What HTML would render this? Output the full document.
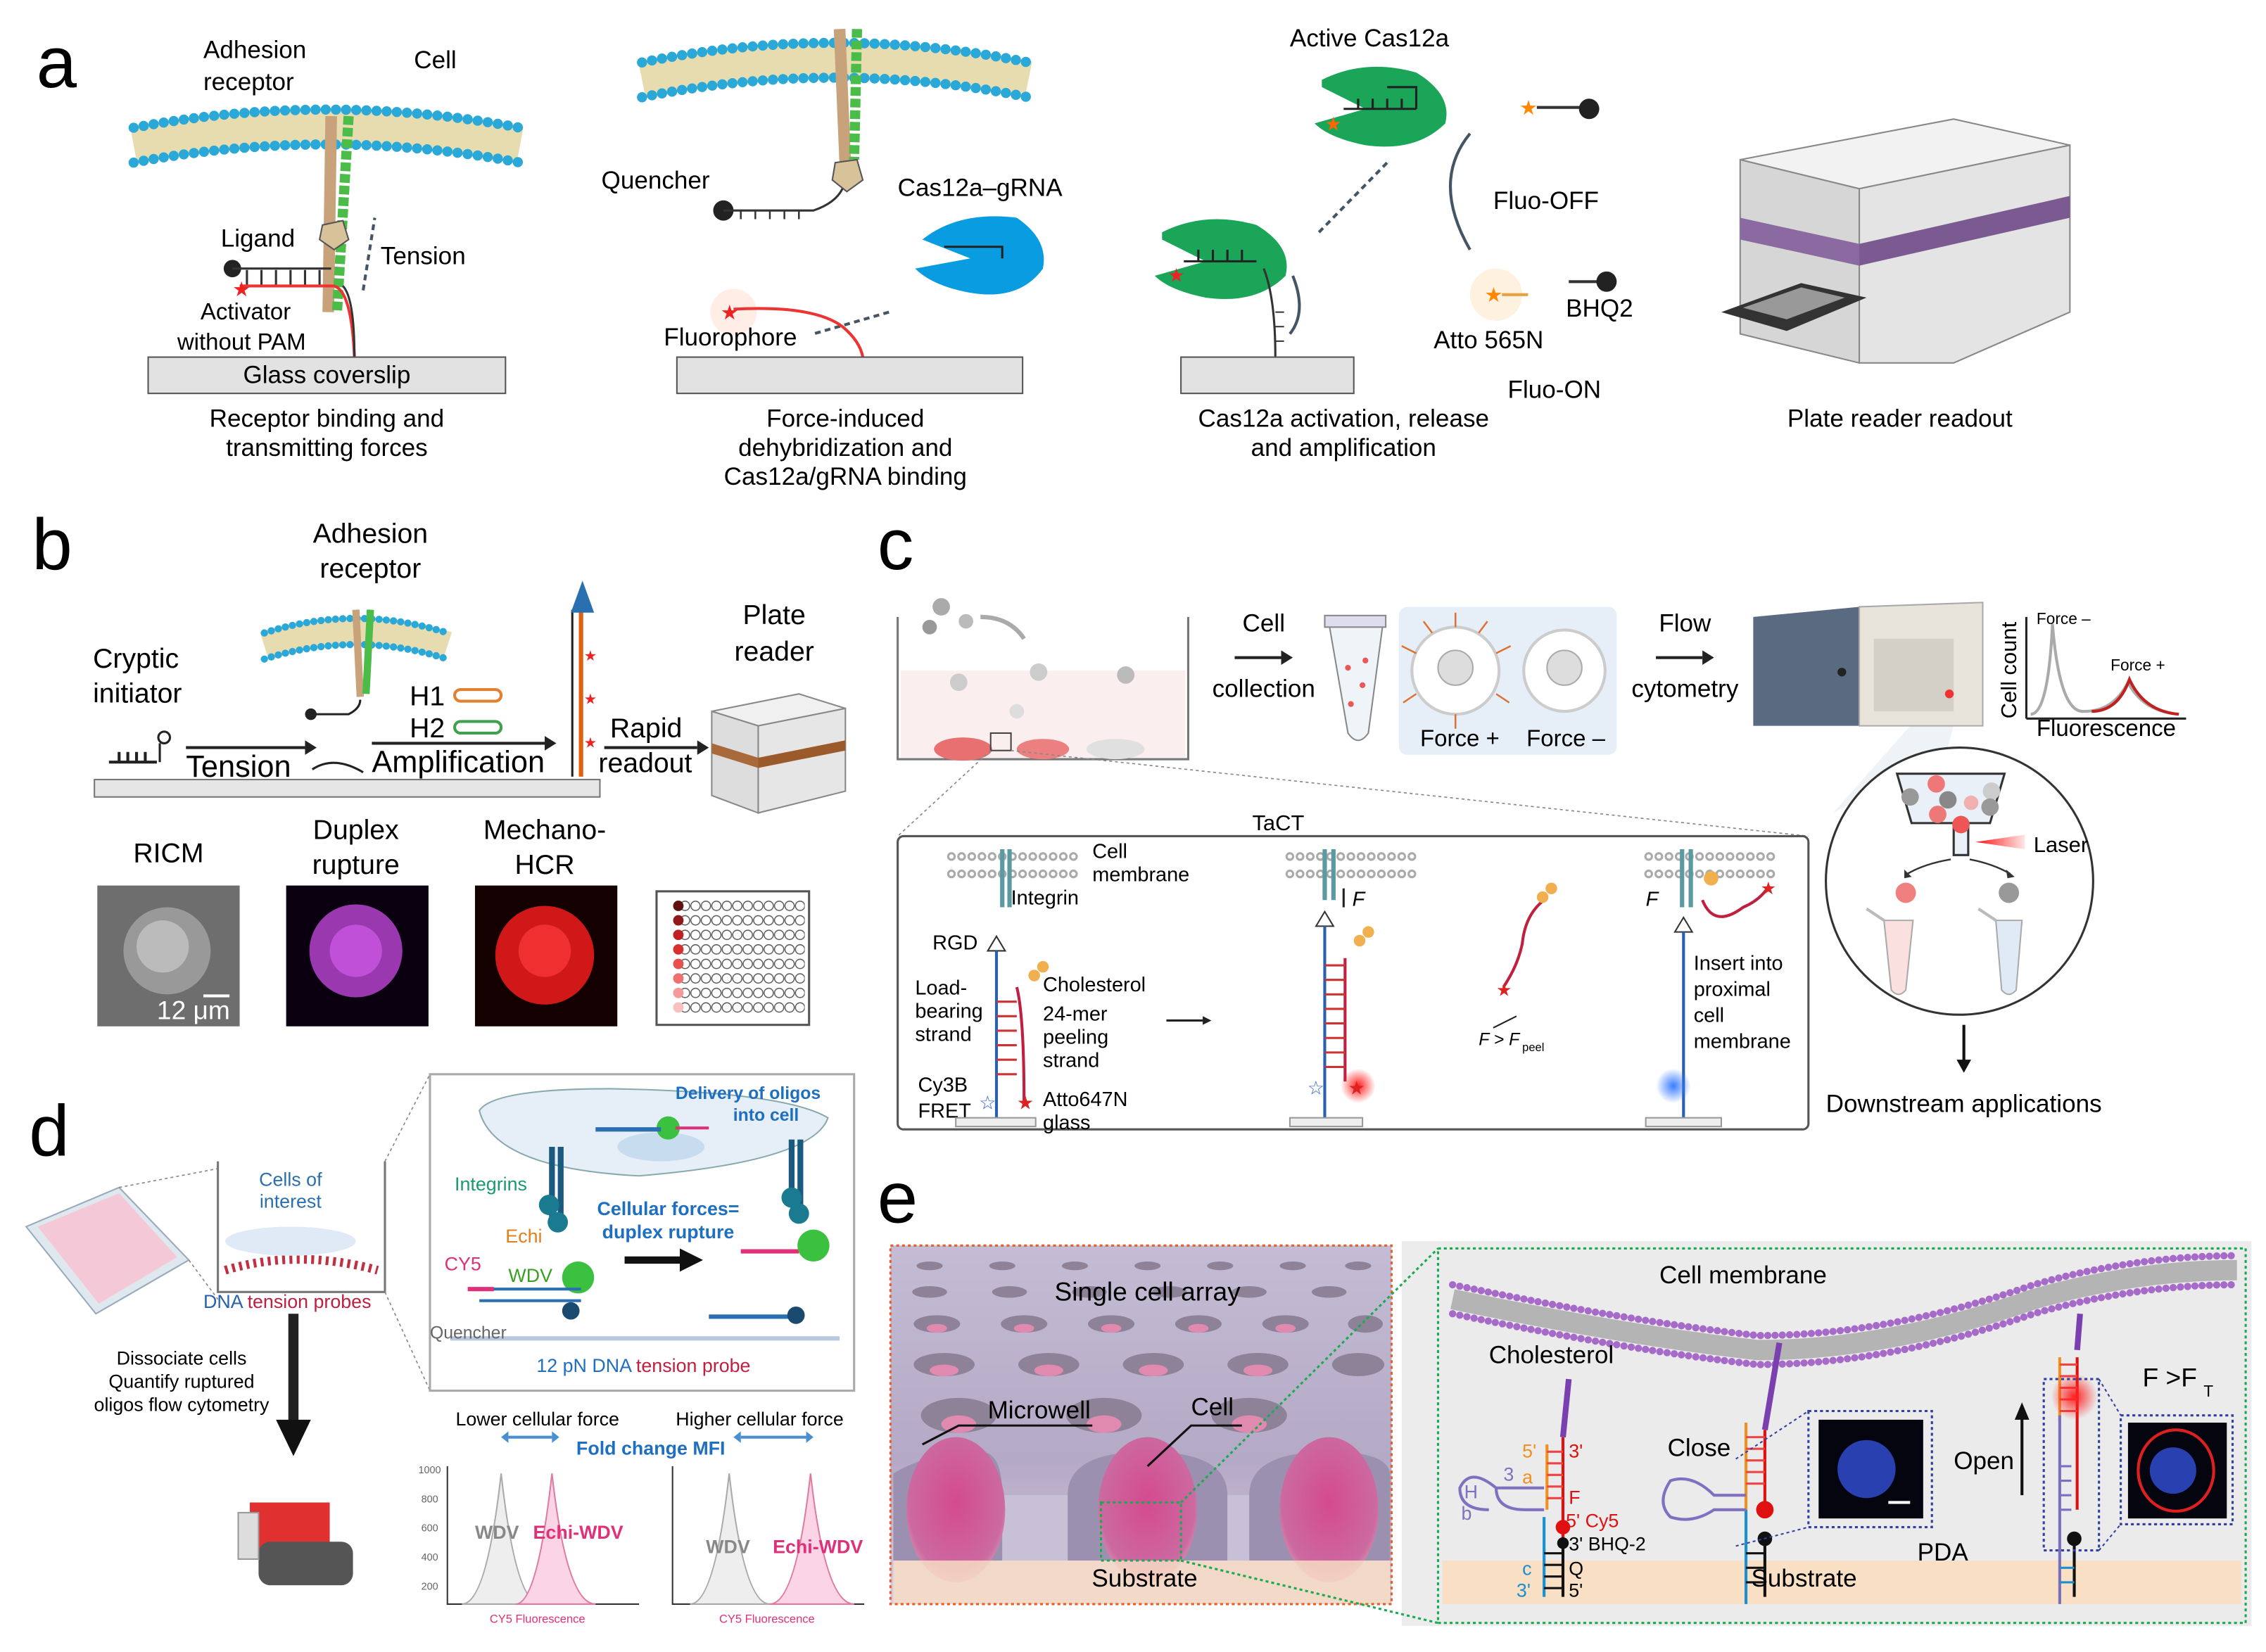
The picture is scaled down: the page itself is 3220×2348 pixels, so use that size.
<!DOCTYPE html>
<html><head><meta charset="utf-8"><style>
html,body{margin:0;padding:0;background:#fff}
svg{display:block}
text{font-family:"Liberation Sans",sans-serif}
</style></head><body>
<svg width="3220" height="2348" viewBox="0 0 1560 1138" preserveAspectRatio="none" xmlns="http://www.w3.org/2000/svg">
<defs>
<radialGradient id="pink" cx="50%" cy="45%" r="60%"><stop offset="0" stop-color="#d44a90"/><stop offset="0.8" stop-color="#cc6aa0"/><stop offset="1" stop-color="#d8a0b8"/></radialGradient>
<radialGradient id="glowr" r="50%"><stop offset="0" stop-color="#ff2020"/><stop offset="1" stop-color="#ff2020" stop-opacity="0"/></radialGradient>
<radialGradient id="glowb" r="50%"><stop offset="0" stop-color="#3a7cff"/><stop offset="1" stop-color="#3a7cff" stop-opacity="0"/></radialGradient>
<linearGradient id="well" x1="0" y1="0" x2="0" y2="1"><stop offset="0" stop-color="#c4bcd4"/><stop offset="0.6" stop-color="#b4a9c6"/><stop offset="1" stop-color="#d8cce0"/></linearGradient>
<linearGradient id="laser" x1="0" y1="0" x2="1" y2="0"><stop offset="0" stop-color="#ff1010"/><stop offset="1" stop-color="#ff1010" stop-opacity="0.1"/></linearGradient>
<pattern id="grid" x="468" y="619" width="7.2" height="10" patternUnits="userSpaceOnUse"><circle cx="3.6" cy="5" r="3.2" fill="#fff" stroke="#555" stroke-width="0.7"/></pattern>
</defs>

<!-- ================= PANEL A ================= -->
<text x="25" y="60" font-size="50">a</text>
<path d="M92 100 Q225 75 358 100" stroke="#e6dcb0" stroke-width="26" fill="none"/>
<path d="M92 88 Q225 63 358 88" stroke="#2aa8d8" stroke-width="7" stroke-dasharray="0 7" stroke-linecap="round" fill="none"/>
<path d="M92 112 Q225 87 358 112" stroke="#2aa8d8" stroke-width="7" stroke-dasharray="0 7" stroke-linecap="round" fill="none"/>
<path d="M228 80 L226 215" stroke="#c8a27a" stroke-width="8" fill="none"/>
<path d="M240 80 L232 215" stroke="#4cbc48" stroke-width="7" stroke-dasharray="6 2" fill="none"/>
<polygon points="222,155 236,152 240,165 230,172 220,165" fill="#d8c29a" stroke="#555"/>
<text x="140" y="40" font-size="17">Adhesion</text>
<text x="140" y="62" font-size="17">receptor</text>
<text x="285" y="47" font-size="17">Cell</text>
<text x="152" y="170" font-size="17">Ligand</text>
<text x="262" y="182" font-size="17">Tension</text>
<path d="M250 200 L258 150" stroke="#456" stroke-width="2" stroke-dasharray="4 3"/>
<circle cx="160" cy="185" r="6" fill="#222"/>
<path d="M160 185 H228 M170 186 V197 M180 186 V197 M190 186 V197 M200 186 V197 M210 186 V197 M220 186 V197" stroke="#333" stroke-width="1.5"/>
<path d="M165 197 H230 Q242 200 244 246" stroke="#e33" stroke-width="2" fill="none"/>
<path d="M236 197 Q244 205 244 246" stroke="#333" stroke-width="1.5" fill="none"/>
<text x="160" y="204" font-size="14" fill="#e22">★</text>
<text x="138" y="220" font-size="16">Activator</text>
<text x="122" y="241" font-size="16">without PAM</text>
<rect x="102" y="246" width="246" height="25" fill="#e2e2e2" stroke="#555"/>
<text x="225" y="264" font-size="17" text-anchor="middle">Glass coverslip</text>
<text x="225" y="294" font-size="17" text-anchor="middle">Receptor binding and</text>
<text x="225" y="314" font-size="17" text-anchor="middle">transmitting forces</text>

<path d="M442 55 Q575 28 708 55" stroke="#e6dcb0" stroke-width="26" fill="none"/>
<path d="M442 43 Q575 16 708 43" stroke="#2aa8d8" stroke-width="7" stroke-dasharray="0 7" stroke-linecap="round" fill="none"/>
<path d="M442 67 Q575 40 708 67" stroke="#2aa8d8" stroke-width="7" stroke-dasharray="0 7" stroke-linecap="round" fill="none"/>
<path d="M578 20 L582 115" stroke="#c8a27a" stroke-width="8"/>
<path d="M590 20 L588 110" stroke="#4cbc48" stroke-width="7" stroke-dasharray="6 2"/>
<polygon points="575,112 590,110 594,124 583,132 573,124" fill="#d8c29a" stroke="#555"/>
<circle cx="498" cy="145" r="7" fill="#222"/>
<path d="M498 145 H560 Q575 140 580 130" stroke="#333" stroke-width="1.5" fill="none"/>
<path d="M510 145 v6 M520 145 v6 M530 145 v6 M540 145 v6 M550 145 v6" stroke="#333" stroke-width="1.2"/>
<text x="414" y="130" font-size="17">Quencher</text>
<text x="618" y="135" font-size="17">Cas12a–gRNA</text>
<path d="M635 165 Q660 145 700 150 Q722 165 718 185 Q700 210 660 200 Q640 195 630 185 L668 178 L635 165 Z" fill="#0a9ce0"/>
<path d="M650 170 H690 V178" stroke="#222" stroke-width="1.5" fill="none"/>
<path d="M612 215 L560 230" stroke="#456" stroke-width="2" stroke-dasharray="4 3"/>
<circle cx="505" cy="215" r="16" fill="#ffe8e0" opacity="0.8"/>
<path d="M505 213 Q560 210 580 225 Q592 235 594 246" stroke="#e33" stroke-width="2" fill="none"/>
<text x="496" y="220" font-size="14" fill="#e22">★</text>
<text x="457" y="238" font-size="17">Fluorophore</text>
<rect x="466" y="246" width="238" height="25" fill="#e2e2e2" stroke="#555"/>
<text x="582" y="294" font-size="17" text-anchor="middle">Force-induced</text>
<text x="582" y="314" font-size="17" text-anchor="middle">dehybridization and</text>
<text x="582" y="334" font-size="17" text-anchor="middle">Cas12a/gRNA binding</text>

<text x="888" y="32" font-size="17">Active Cas12a</text>
<path d="M910 55 Q940 40 975 50 Q1000 65 995 85 Q975 105 940 100 Q915 95 905 85 L940 75 L910 60 Z" fill="#1aa558"/>
<path d="M925 75 H975 M935 68 V75 M945 68 V75 M955 68 V75 M965 68 V75 M955 60 H975 V75" stroke="#222" stroke-width="1.5" fill="none"/>
<text x="912" y="90" font-size="13" fill="#f60">★</text>
<path d="M800 160 Q830 145 865 155 Q890 170 885 190 Q865 210 830 205 Q805 200 795 190 L830 180 L800 165 Z" fill="#1aa558"/>
<path d="M815 180 H865 M825 172 V180 M835 172 V180 M845 172 V180 M855 172 V180" stroke="#222" stroke-width="1.5" fill="none"/>
<text x="804" y="194" font-size="13" fill="#e22">★</text>
<path d="M870 185 Q878 205 878 246" stroke="#333" stroke-width="1.5" fill="none"/>
<path d="M878 215 h6 M878 225 h6 M878 235 h6" stroke="#333"/>
<path d="M890 190 Q900 215 888 230" stroke="#456" stroke-width="2" fill="none"/>
<path d="M908 160 L955 112" stroke="#456" stroke-width="2" stroke-dasharray="4 3"/>
<rect x="813" y="246" width="119" height="25" fill="#e2e2e2" stroke="#555"/>
<text x="1046" y="79" font-size="14" fill="#f80">★</text>
<path d="M1058 74 H1090" stroke="#333" stroke-width="2"/><circle cx="1094" cy="75" r="7" fill="#222"/>
<path d="M1012 92 Q985 125 1012 172" stroke="#456" stroke-width="2" fill="none"/>
<text x="1028" y="144" font-size="17">Fluo-OFF</text>
<circle cx="1030" cy="203" r="18" fill="#fff1e0"/>
<text x="1022" y="208" font-size="14" fill="#f80">★</text>
<path d="M1034 203 H1052" stroke="#e9a040" stroke-width="2"/>
<path d="M1080 194 H1102" stroke="#333" stroke-width="2"/><circle cx="1106" cy="194" r="7" fill="#222"/>
<text x="1078" y="218" font-size="17">BHQ2</text>
<text x="987" y="240" font-size="17">Atto 565N</text>
<text x="1038" y="274" font-size="17">Fluo-ON</text>
<text x="925" y="294" font-size="17" text-anchor="middle">Cas12a activation, release</text>
<text x="925" y="314" font-size="17" text-anchor="middle">and amplification</text>
<polygon points="1198,110 1345,82 1425,100 1280,130" fill="#f2f2f2" stroke="#888"/>
<polygon points="1198,110 1280,130 1280,250 1198,230" fill="#d6d6d6" stroke="#888"/>
<polygon points="1280,130 1425,100 1425,215 1345,250 1280,250" fill="#e4e4e4" stroke="#888"/>
<polygon points="1280,168 1425,135 1425,150 1280,183" fill="#7a5a90"/>
<polygon points="1198,150 1280,168 1280,183 1198,165" fill="#8a6aa0"/>
<polygon points="1185,215 1240,195 1285,205 1230,228" fill="#333"/>
<polygon points="1200,212 1240,198 1270,205 1230,220" fill="#999"/>
<text x="1308" y="294" font-size="17" text-anchor="middle">Plate reader readout</text>

<!-- ================= PANEL B ================= -->
<text x="22" y="392" font-size="50">b</text>
<text x="255" y="374" font-size="19" text-anchor="middle">Adhesion</text>
<text x="255" y="398" font-size="19" text-anchor="middle">receptor</text>
<path d="M182 445 Q245 425 308 445" stroke="#e6dcb0" stroke-width="20" fill="none"/>
<path d="M182 436 Q245 416 308 436" stroke="#2aa8d8" stroke-width="5" stroke-dasharray="0 5" stroke-linecap="round" fill="none"/>
<path d="M182 454 Q245 434 308 454" stroke="#2aa8d8" stroke-width="5" stroke-dasharray="0 5" stroke-linecap="round" fill="none"/>
<path d="M245 420 L248 480" stroke="#c8a27a" stroke-width="5"/><path d="M255 420 L252 478" stroke="#4cbc48" stroke-width="5"/>
<path d="M215 492 H240 Q248 488 248 482" stroke="#222" stroke-width="1.5" fill="none"/><circle cx="214" cy="492" r="4" fill="#222"/>
<text x="64" y="460" font-size="19">Cryptic</text>
<text x="64" y="484" font-size="19">initiator</text>
<text x="282" y="486" font-size="19">H1</text><text x="282" y="508" font-size="19">H2</text>
<rect x="313" y="475" width="32" height="8" rx="4" fill="none" stroke="#e08030" stroke-width="2"/>
<rect x="313" y="497" width="32" height="8" rx="4" fill="none" stroke="#40a050" stroke-width="2"/>
<path d="M400 535 V420" stroke="#e06010" stroke-width="3"/><path d="M394 535 V420" stroke="#222" stroke-width="1.5"/>
<polygon points="393,422 401,400 409,422" fill="#2a70b0"/>
<text x="402" y="455" font-size="10" fill="#e22">★</text><text x="402" y="485" font-size="10" fill="#e22">★</text><text x="402" y="515" font-size="10" fill="#e22">★</text>
<path d="M75 525 H108 M82 518 V525 M88 518 V525 M94 518 V525 M100 518 V525" stroke="#222" stroke-width="2"/>
<circle cx="113" cy="508" r="4" fill="none" stroke="#222" stroke-width="1.5"/><path d="M110 512 V525" stroke="#222" stroke-width="1.5"/>
<path d="M128 515 H210" stroke="#222" stroke-width="2"/><polygon points="210,510 218,515 210,520" fill="#222"/>
<text x="128" y="535" font-size="21">Tension</text>
<path d="M215 530 Q230 520 250 532" stroke="#222" stroke-width="1.5" fill="none"/>
<path d="M256 512 H375" stroke="#222" stroke-width="2"/><polygon points="375,507 383,512 375,517" fill="#222"/>
<text x="256" y="532" font-size="21">Amplification</text>
<rect x="65" y="537" width="348" height="12" fill="#e6e6e6" stroke="#777"/>
<text x="533" y="430" font-size="19" text-anchor="middle">Plate</text>
<text x="533" y="455" font-size="19" text-anchor="middle">reader</text>
<text x="420" y="508" font-size="19">Rapid</text>
<text x="412" y="532" font-size="19">readout</text>
<path d="M416 515 H480" stroke="#222" stroke-width="2"/><polygon points="480,510 488,515 480,520" fill="#222"/>
<polygon points="490,490 550,478 582,488 522,500" fill="#f0f0f0" stroke="#888"/>
<polygon points="490,490 522,500 522,560 490,548" fill="#ddd" stroke="#888"/>
<polygon points="522,500 582,488 582,545 522,560" fill="#e6e6e6" stroke="#888"/>
<polygon points="522,522 582,510 582,517 522,529" fill="#9a5a2a"/>
<polygon points="490,512 522,522 522,529 490,519" fill="#a86a3a"/>
<text x="116" y="594" font-size="19" text-anchor="middle">RICM</text>
<text x="245" y="578" font-size="19" text-anchor="middle">Duplex</text>
<text x="245" y="602" font-size="19" text-anchor="middle">rupture</text>
<text x="375" y="578" font-size="19" text-anchor="middle">Mechano-</text>
<text x="375" y="602" font-size="19" text-anchor="middle">HCR</text>
<rect x="67" y="610" width="98" height="97" fill="#6e6e6e"/>
<circle cx="115" cy="655" r="30" fill="#999"/><circle cx="112" cy="652" r="18" fill="#bbb"/>
<path d="M140 686 H158" stroke="#fff" stroke-width="2"/>
<text x="108" y="702" font-size="18" fill="#fff">12 μm</text>
<rect x="197" y="610" width="98" height="97" fill="#0a0010"/>
<circle cx="245" cy="655" r="32" fill="#9a38b0"/><circle cx="245" cy="655" r="18" fill="#c050d8"/>
<rect x="327" y="610" width="98" height="97" fill="#150000"/>
<circle cx="375" cy="658" r="34" fill="#d01818"/><circle cx="375" cy="655" r="18" fill="#f03030"/>
<rect x="452" y="614" width="105" height="92" fill="#fff" stroke="#555" stroke-width="1.5"/>
<rect x="468" y="619" width="86" height="80" fill="url(#grid)"/>
<g><circle cx="467" cy="624" r="3.6" fill="#601010"/><circle cx="467" cy="634" r="3.6" fill="#901818"/><circle cx="467" cy="644" r="3.6" fill="#c02020"/><circle cx="467" cy="654" r="3.6" fill="#d83030"/>
<circle cx="467" cy="664" r="3.6" fill="#e85050"/><circle cx="467" cy="674" r="3.6" fill="#f07070"/><circle cx="467" cy="684" r="3.6" fill="#f49a9a"/><circle cx="467" cy="694" r="3.6" fill="#f8c0c0"/></g>

<!-- ================= PANEL C ================= -->
<text x="604" y="392" font-size="50">c</text>
<path d="M618 425 V523 H818 V425" stroke="#777" stroke-width="1.5" fill="none"/>
<rect x="620" y="462" width="196" height="60" fill="#fbeeee"/>
<circle cx="648" cy="418" r="6" fill="#aaa"/><circle cx="665" cy="428" r="5" fill="#bbb"/><circle cx="640" cy="432" r="5" fill="#999"/>
<path d="M675 425 Q695 425 705 440" stroke="#aaa" stroke-width="3" fill="none"/>
<circle cx="660" cy="470" r="6" fill="#ccc"/><circle cx="715" cy="463" r="6" fill="#ccc"/><circle cx="775" cy="465" r="6" fill="#bbb"/><circle cx="700" cy="490" r="5" fill="#ddd"/>
<ellipse cx="663" cy="516" rx="20" ry="8" fill="#e87070"/><ellipse cx="718" cy="516" rx="18" ry="7" fill="#ec8080"/><ellipse cx="768" cy="516" rx="20" ry="7" fill="#e0e0e0"/>
<rect x="682" y="505" width="14" height="12" fill="none" stroke="#444"/>
<path d="M682 517 L618 576 M696 517 L1245 576" stroke="#888" stroke-width="0.8" stroke-dasharray="2 2"/>
<text x="870" y="435" font-size="17" text-anchor="middle">Cell</text>
<text x="870" y="480" font-size="17" text-anchor="middle">collection</text>
<path d="M850 453 H882" stroke="#222" stroke-width="2"/><polygon points="882,448 890,453 882,458" fill="#222"/>
<path d="M915 430 H952 L942 505 Q935 515 928 505 Z" fill="#eef4f8" stroke="#888"/>
<rect x="912" y="424" width="42" height="8" fill="#dde" stroke="#888"/>
<circle cx="928" cy="460" r="2" fill="#e55"/><circle cx="938" cy="472" r="2" fill="#e55"/><circle cx="930" cy="485" r="2" fill="#e55"/><circle cx="940" cy="455" r="2" fill="#e55"/>
<rect x="963" y="418" width="150" height="102" rx="6" fill="#e6eef8"/>
<circle cx="1002" cy="462" r="30" fill="#fff" stroke="#ccc" stroke-width="2"/><circle cx="1002" cy="460" r="12" fill="#ddd" stroke="#aaa"/>
<g stroke="#e07030" stroke-width="1.2"><path d="M1002 432 v-10 M1030 450 l10 -5 M1030 478 l9 6 M975 450 l-10 -5 M975 478 l-9 6 M1002 492 v10 M1018 436 l6 -8 M986 436 l-6 -8"/></g>
<circle cx="1077" cy="462" r="28" fill="#fff" stroke="#ccc" stroke-width="2"/><circle cx="1077" cy="460" r="12" fill="#ddd" stroke="#aaa"/>
<text x="1005" y="514" font-size="16" text-anchor="middle">Force +</text>
<text x="1078" y="514" font-size="16" text-anchor="middle">Force –</text>
<text x="1160" y="435" font-size="17" text-anchor="middle">Flow</text>
<text x="1160" y="480" font-size="17" text-anchor="middle">cytometry</text>
<path d="M1140 453 H1172" stroke="#222" stroke-width="2"/><polygon points="1172,448 1180,453 1172,458" fill="#222"/>
<!-- light fan from cytometer to circle -->
<polygon points="1315,500 1345,500 1340,518 1262,560" fill="#eef3f8"/>
<polygon points="1207,425 1280,418 1280,500 1207,500" fill="#5a6a80"/>
<polygon points="1280,418 1365,415 1365,500 1280,500" fill="#e8e4dc" stroke="#aaa"/>
<rect x="1290" y="440" width="55" height="50" fill="#d4d0c8"/>
<circle cx="1268" cy="463" r="3" fill="#222"/><circle cx="1342" cy="478" r="3" fill="#e33"/>
<path d="M1395 495 V425 M1395 495 H1505" stroke="#222" stroke-width="1.5" fill="none"/>
<path d="M1398 492 Q1410 492 1413 430 Q1418 492 1435 490 Q1455 490 1465 470 Q1475 490 1500 492" stroke="#aaa" stroke-width="2" fill="none"/>
<path d="M1440 490 Q1458 490 1466 468 Q1476 490 1500 492" stroke="#c02020" stroke-width="2" fill="none"/>
<text x="1402" y="430" font-size="11">Force –</text>
<text x="1453" y="462" font-size="11">Force +</text>
<text x="1388" y="495" font-size="15" transform="rotate(-90 1388 495)">Cell count</text>
<text x="1402" y="507" font-size="16">Fluorescence</text>
<!-- sorting circle -->
<circle cx="1349" cy="607" r="92" fill="#fff" stroke="#333" stroke-width="1.5"/>
<polygon points="1306,533 1380,533 1370,567 1355,567 1355,589 1345,589 1345,567 1316,567" fill="#eaf0f7" stroke="#333" stroke-width="1.5"/>
<circle cx="1333" cy="540" r="6" fill="#e77"/><circle cx="1315" cy="549" r="6" fill="#999"/><circle cx="1341" cy="551" r="6" fill="#888"/><circle cx="1357" cy="553" r="5" fill="#f0b0b0"/><circle cx="1371" cy="545" r="6" fill="#ccc"/><circle cx="1370" cy="556" r="6" fill="#999"/><circle cx="1334" cy="561" r="6" fill="#e77"/><circle cx="1350" cy="568" r="6" fill="#e55"/>
<polygon points="1360,580 1394,575 1394,585" fill="url(#laser)"/>
<text x="1400" y="587" font-size="15">Laser</text>
<path d="M1343 592 Q1325 595 1313 602 M1356 592 Q1372 595 1384 602" stroke="#333" stroke-width="1.2" fill="none"/>
<polygon points="1311,599 1311,605 1316,604" fill="#333"/><polygon points="1381,599 1387,604 1382,605" fill="#333"/>
<circle cx="1312" cy="615" r="7" fill="#f08080"/><circle cx="1383" cy="615" r="7" fill="#999"/>
<path d="M1297 634 H1317 L1312 682 Q1307 688 1302 682 Z" fill="#fbe0e0" stroke="#aaa"/>
<path d="M1374 634 H1392 L1388 682 Q1383 688 1378 682 Z" fill="#dfeaf4" stroke="#aaa"/>
<path d="M1297 634 L1285 626 M1374 634 L1362 626" stroke="#bbb" stroke-width="2"/>
<path d="M1352 706 V732" stroke="#111" stroke-width="2"/><polygon points="1347,730 1352,739 1357,730" fill="#111"/>
<text x="1352" y="766" font-size="17" text-anchor="middle">Downstream applications</text>
<text x="880" y="572" font-size="15" text-anchor="middle">TaCT</text>
<rect x="618" y="576" width="627" height="202" rx="4" fill="#fff" stroke="#555" stroke-width="1.5"/>
<g fill="none">
<path d="M655 590 H745 M655 602 H745" stroke-dasharray="0 7" stroke-width="6" stroke-linecap="round" stroke="#aaa"/>
<path d="M888 590 H975 M888 602 H975" stroke-dasharray="0 7" stroke-width="6" stroke-linecap="round" stroke="#aaa"/>
<path d="M1135 590 H1222 M1135 602 H1222" stroke-dasharray="0 7" stroke-width="6" stroke-linecap="round" stroke="#aaa"/>
<path d="M655 590 H745 M655 602 H745 M888 590 H975 M888 602 H975 M1135 590 H1222 M1135 602 H1222" stroke="#fff" stroke-width="3" stroke-dasharray="0 7" stroke-linecap="round"/>
</g>
<path d="M690 585 V625 M695 585 V625" stroke="#5a9aa0" stroke-width="3"/>
<path d="M912 585 V620 M918 585 V620" stroke="#5a9aa0" stroke-width="3"/>
<path d="M1158 585 V625 M1164 585 V625" stroke="#5a9aa0" stroke-width="3"/>
<text x="752" y="591" font-size="14">Cell</text><text x="752" y="607" font-size="14">membrane</text>
<text x="696" y="623" font-size="14">Integrin</text>
<text x="642" y="654" font-size="14">RGD</text>
<text x="630" y="685" font-size="14">Load-</text><text x="630" y="701" font-size="14">bearing</text><text x="630" y="717" font-size="14">strand</text>
<text x="718" y="683" font-size="14">Cholesterol</text>
<text x="718" y="703" font-size="14">24-mer</text><text x="718" y="719" font-size="14">peeling</text><text x="718" y="735" font-size="14">strand</text>
<text x="632" y="752" font-size="14">Cy3B</text><text x="632" y="770" font-size="14">FRET</text>
<text x="718" y="762" font-size="14">Atto647N</text><text x="718" y="778" font-size="14">glass</text>
<polygon points="680,655 686,645 692,655" fill="none" stroke="#333"/>
<path d="M686 655 V770" stroke="#2a60b0" stroke-width="2"/>
<path d="M700 680 Q705 700 705 760" stroke="#c02040" stroke-width="2" fill="none"/>
<path d="M686 690 h14 M686 700 h14 M686 710 h14 M686 720 h14 M686 730 h14 M686 740 h14" stroke="#c33" stroke-width="1.5"/>
<circle cx="712" cy="672" r="4" fill="#f0b050"/><circle cx="718" cy="666" r="4" fill="#f0b050"/>
<text x="674" y="764" font-size="13" fill="#36c">☆</text>
<text x="700" y="764" font-size="13" fill="#d22">★</text>
<rect x="658" y="770" width="55" height="6" fill="#eee" stroke="#999"/>
<path d="M803 703 H828" stroke="#222" stroke-width="1.5"/><polygon points="828,700 834,703 828,706" fill="#222"/>
<polygon points="906,638 912,628 918,638" fill="none" stroke="#333"/>
<path d="M912 638 V770" stroke="#2a60b0" stroke-width="2"/>
<path d="M926 660 V745" stroke="#c02040" stroke-width="2"/>
<path d="M912 665 h14 M912 675 h14 M912 685 h14 M912 695 h14 M912 705 h14 M912 715 h14 M912 725 h14 M912 735 h14" stroke="#c33" stroke-width="1.5"/>
<circle cx="935" cy="748" r="12" fill="url(#glowr)"/>
<circle cx="936" cy="648" r="4" fill="#f0b050"/><circle cx="942" cy="642" r="4" fill="#f0b050"/>
<text x="931" y="624" font-size="14" font-style="italic">F</text>
<path d="M925 625 V612" stroke="#222" stroke-width="1.5"/>
<text x="900" y="754" font-size="13" fill="#36c">☆</text><text x="928" y="754" font-size="13" fill="#d22">★</text>
<rect x="888" y="770" width="50" height="6" fill="#eee" stroke="#999"/>
<path d="M1063 620 Q1050 630 1048 650 Q1045 665 1035 680" stroke="#c02040" stroke-width="2" fill="none"/>
<circle cx="1062" cy="618" r="4" fill="#f0b050"/><circle cx="1068" cy="612" r="4" fill="#f0b050"/>
<text x="1030" y="686" font-size="12" fill="#d22">★</text>
<text x="1018" y="720" font-size="12" font-style="italic">F &gt; F</text><text x="1048" y="724" font-size="8">peel</text>
<path d="M1028 708 L1044 700" stroke="#222" stroke-width="1"/>
<text x="1133" y="624" font-size="14" font-style="italic">F</text>
<polygon points="1153,642 1159,632 1165,642" fill="none" stroke="#333"/>
<path d="M1159 642 V770" stroke="#2a60b0" stroke-width="2"/>
<path d="M1172 620 Q1180 640 1200 625 Q1212 620 1218 610" stroke="#c02040" stroke-width="2" fill="none"/>
<circle cx="1178" cy="605" r="5" fill="#f0b050"/>
<text x="1212" y="616" font-size="12" fill="#d22">★</text>
<circle cx="1152" cy="748" r="12" fill="url(#glowb)"/>
<text x="1166" y="668" font-size="14">Insert into</text><text x="1166" y="686" font-size="14">proximal</text><text x="1166" y="704" font-size="14">cell</text><text x="1166" y="722" font-size="14">membrane</text>
<rect x="1133" y="770" width="52" height="6" fill="#eee" stroke="#999"/>

<!-- ================= PANEL D ================= -->
<text x="20" y="796" font-size="50">d</text>
<polygon points="18,845 82,818 130,868 66,905" fill="#dfe8ee" stroke="#9ab"/>
<polygon points="26,845 82,822 122,866 68,898" fill="#f5c8d8"/>
<path d="M82 818 L150 805 M130 868 L150 895" stroke="#888" stroke-width="0.8" stroke-dasharray="2 2"/>
<path d="M150 800 V890 H265 V800" stroke="#777" stroke-width="1.5" fill="none"/>
<path d="M155 875 Q205 860 260 875" stroke="#c03040" stroke-width="6" stroke-dasharray="2 3" fill="none"/>
<ellipse cx="200" cy="855" rx="45" ry="10" fill="#dfeaf6"/>
<text x="200" y="817" font-size="13" text-anchor="middle" fill="#2a70b0">Cells of</text>
<text x="200" y="832" font-size="13" text-anchor="middle" fill="#2a70b0">interest</text>
<text x="140" y="901" font-size="13" fill="#2a60b0">DNA <tspan fill="#c02040">tension probes</tspan></text>
<path d="M265 800 L296 740 M265 890 L296 958" stroke="#888" stroke-width="0.8" stroke-dasharray="2 2"/>
<text x="125" y="940" font-size="13" text-anchor="middle">Dissociate cells</text>
<text x="125" y="956" font-size="13" text-anchor="middle">Quantify ruptured</text>
<text x="125" y="972" font-size="13" text-anchor="middle">oligos flow cytometry</text>
<path d="M202 905 V980" stroke="#222" stroke-width="7"/><polygon points="190,978 202,1003 214,978" fill="#111"/>
<rect x="172" y="1035" width="55" height="35" fill="#e03030"/><rect x="178" y="1062" width="65" height="30" rx="8" fill="#555"/>
<rect x="164" y="1042" width="14" height="32" fill="#ddd" stroke="#999"/>
<rect x="296" y="740" width="292" height="218" fill="#fff" stroke="#aaa" stroke-width="1.5"/>
<path d="M330 765 Q340 750 420 750 Q540 752 570 770 Q560 800 440 810 Q340 805 330 765 Z" fill="#e6eef8" stroke="#8aa"/>
<ellipse cx="455" cy="790" rx="30" ry="10" fill="#c8dcef"/>
<text x="565" y="757" font-size="12" text-anchor="end" fill="#1f6fc0" font-weight="bold">Delivery of oligos</text>
<text x="550" y="772" font-size="12" text-anchor="end" fill="#1f6fc0" font-weight="bold">into cell</text>
<circle cx="460" cy="777" r="8" fill="#3cc040"/><path d="M410 778 H455" stroke="#2a70b0" stroke-width="3"/><path d="M465 777 H488" stroke="#e0307a" stroke-width="2"/>
<path d="M380 790 V840 M386 790 V840" stroke="#1a5a80" stroke-width="4"/>
<circle cx="378" cy="830" r="7" fill="#1a7a90"/><circle cx="384" cy="842" r="7" fill="#1a7a90"/>
<path d="M545 785 V830 M551 785 V830" stroke="#1a5a80" stroke-width="4"/>
<circle cx="545" cy="825" r="7" fill="#1a7a90"/><circle cx="550" cy="836" r="7" fill="#1a7a90"/>
<text x="313" y="820" font-size="13" fill="#1a9a70">Integrins</text>
<text x="348" y="856" font-size="13" fill="#e0801a">Echi</text>
<text x="306" y="875" font-size="13" fill="#e0307a">CY5</text>
<text x="350" y="883" font-size="13" fill="#3aa020">WDV</text>
<text x="460" y="837" font-size="13" text-anchor="middle" fill="#1f6fc0" font-weight="bold">Cellular forces=</text>
<text x="460" y="853" font-size="13" text-anchor="middle" fill="#1f6fc0" font-weight="bold">duplex rupture</text>
<circle cx="398" cy="880" r="11" fill="#3cc040"/>
<path d="M330 888 H400 M330 896 H400" stroke="#2a70b0" stroke-width="2"/><path d="M322 888 H340" stroke="#e0307a" stroke-width="3"/>
<circle cx="393" cy="903" r="6" fill="#1a4a70"/>
<path d="M430 868 H470" stroke="#111" stroke-width="5"/><polygon points="468,860 484,868 468,876" fill="#111"/>
<path d="M510 862 H550" stroke="#e0307a" stroke-width="3"/><circle cx="560" cy="858" r="11" fill="#3cc040"/>
<path d="M488 907 H550" stroke="#2a70b0" stroke-width="3"/><circle cx="548" cy="906" r="6" fill="#1a4a70"/>
<path d="M310 922 H578" stroke="#b8c8e0" stroke-width="3"/>
<text x="296" y="922" font-size="12" fill="#666">Quencher</text>
<text x="443" y="945" font-size="13" text-anchor="middle" fill="#1f6fc0">12 pN DNA <tspan fill="#c02040">tension probe</tspan></text>
<text x="370" y="982" font-size="13" text-anchor="middle">Lower cellular force</text>
<text x="523" y="982" font-size="13" text-anchor="middle">Higher cellular force</text>
<text x="448" y="1002" font-size="13" text-anchor="middle" fill="#1f6fc0" font-weight="bold">Fold change MFI</text>
<path d="M350 990 H380 M510 990 H555" stroke="#4a90d0" stroke-width="2"/>
<polygon points="350,986 345,990 350,994" fill="#4a90d0"/><polygon points="380,986 385,990 380,994" fill="#4a90d0"/>
<polygon points="510,986 505,990 510,994" fill="#4a90d0"/><polygon points="555,986 560,990 555,994" fill="#4a90d0"/>
<g font-size="7" fill="#666"><text x="288" y="1015">1000</text><text x="290" y="1035">800</text><text x="290" y="1055">600</text><text x="290" y="1075">400</text><text x="290" y="1095">200</text></g>
<path d="M308 1010 V1105 H440" stroke="#333" stroke-width="1" fill="none"/>
<path d="M318 1105 Q335 1105 345 1015 Q355 1105 372 1105 Z" fill="#eee" stroke="#aaa"/>
<path d="M355 1105 Q370 1105 380 1015 Q390 1105 410 1105 Z" fill="#fbd4e6" stroke="#e07aa0"/>
<text x="327" y="1060" font-size="13" fill="#888" font-weight="bold">WDV</text>
<text x="367" y="1060" font-size="13" fill="#e0307a" font-weight="bold">Echi-WDV</text>
<text x="370" y="1118" font-size="8" text-anchor="middle" fill="#e0307a">CY5 Fluorescence</text>
<path d="M463 1010 V1105 H595" stroke="#333" stroke-width="1" fill="none"/>
<path d="M475 1105 Q492 1105 502 1015 Q512 1105 530 1105 Z" fill="#eee" stroke="#aaa"/>
<path d="M530 1105 Q548 1105 558 1015 Q568 1105 588 1105 Z" fill="#fbd4e6" stroke="#e07aa0"/>
<text x="486" y="1070" font-size="13" fill="#888" font-weight="bold">WDV</text>
<text x="532" y="1070" font-size="13" fill="#e0307a" font-weight="bold">Echi-WDV</text>
<text x="528" y="1118" font-size="8" text-anchor="middle" fill="#e0307a">CY5 Fluorescence</text>

<!-- ================= PANEL E ================= -->
<text x="604" y="842" font-size="50">e</text>
<rect x="613" y="858" width="345" height="247" fill="url(#well)"/>
<g fill="#8e8298">
<ellipse cx="640" cy="872" rx="9" ry="3"/><ellipse cx="690" cy="872" rx="9" ry="3"/><ellipse cx="740" cy="872" rx="9" ry="3"/><ellipse cx="790" cy="872" rx="9" ry="3"/><ellipse cx="840" cy="872" rx="9" ry="3"/><ellipse cx="890" cy="872" rx="9" ry="3"/><ellipse cx="935" cy="872" rx="9" ry="3"/>
<ellipse cx="640" cy="890" rx="12" ry="4"/><ellipse cx="695" cy="890" rx="12" ry="4"/><ellipse cx="750" cy="890" rx="12" ry="4"/><ellipse cx="805" cy="890" rx="12" ry="4"/><ellipse cx="860" cy="890" rx="12" ry="4"/><ellipse cx="915" cy="890" rx="12" ry="4"/>
<ellipse cx="645" cy="912" rx="16" ry="6"/><ellipse cx="705" cy="912" rx="16" ry="6"/><ellipse cx="765" cy="912" rx="16" ry="6"/><ellipse cx="825" cy="912" rx="16" ry="6"/><ellipse cx="885" cy="912" rx="16" ry="6"/><ellipse cx="940" cy="912" rx="12" ry="6"/>
<ellipse cx="650" cy="940" rx="21" ry="8"/><ellipse cx="722" cy="940" rx="21" ry="8"/><ellipse cx="794" cy="940" rx="21" ry="8"/><ellipse cx="866" cy="940" rx="21" ry="8"/><ellipse cx="935" cy="940" rx="18" ry="8"/>
<ellipse cx="660" cy="975" rx="26" ry="12"/><ellipse cx="760" cy="975" rx="26" ry="12"/><ellipse cx="860" cy="975" rx="26" ry="12"/>
</g>
<g fill="#e08ab0">
<ellipse cx="645" cy="915" rx="7" ry="3"/><ellipse cx="705" cy="915" rx="7" ry="3"/><ellipse cx="765" cy="915" rx="7" ry="3"/><ellipse cx="825" cy="915" rx="7" ry="3"/><ellipse cx="885" cy="915" rx="7" ry="3"/>
<ellipse cx="650" cy="944" rx="10" ry="4"/><ellipse cx="722" cy="944" rx="10" ry="4"/><ellipse cx="794" cy="944" rx="10" ry="4"/><ellipse cx="866" cy="944" rx="10" ry="4"/>
<ellipse cx="660" cy="981" rx="12" ry="6"/><ellipse cx="760" cy="981" rx="12" ry="6"/><ellipse cx="860" cy="981" rx="12" ry="6"/>
</g>
<path d="M615 1015 Q640 1000 675 1000 Q690 1000 690 1030 V1075 H735 V1030 Q735 1000 790 1000 Q845 1000 845 1030 V1075 H860 V1030 Q860 1000 915 1000 Q955 1000 957 1015 V1075 H615 Z" fill="#9c90b0"/>
<rect x="690" y="1030" width="45" height="45" fill="#c8c0d6"/>
<rect x="845" y="1030" width="15" height="45" fill="#c8c0d6"/>
<ellipse cx="658" cy="1040" rx="34" ry="50" fill="url(#pink)"/>
<ellipse cx="790" cy="1040" rx="34" ry="50" fill="url(#pink)"/>
<ellipse cx="915" cy="1040" rx="34" ry="50" fill="url(#pink)"/>
<rect x="615" y="1075" width="342" height="30" fill="#f7dcc4" opacity="0.85"/>
<rect x="613" y="858" width="345" height="247" fill="none" stroke="#e06030" stroke-width="1.5" stroke-dasharray="2 2"/>
<text x="790" y="896" font-size="18" text-anchor="middle">Single cell  array</text>
<text x="680" y="977" font-size="17">Microwell</text>
<text x="820" y="975" font-size="17">Cell</text>
<path d="M635 995 L660 982 H752 M790 1010 L820 982 H855" stroke="#111" stroke-width="1.5" fill="none"/>
<text x="788" y="1093" font-size="17" text-anchor="middle">Substrate</text>
<rect x="758" y="1035" width="55" height="40" fill="none" stroke="#1aaa50" stroke-width="1.5" stroke-dasharray="2 2"/>
<rect x="965" y="855" width="585" height="265" fill="#ececec"/>
<path d="M813 1035 L990 860 M813 1075 L990 1118" stroke="#1aaa50" stroke-width="1.5" stroke-dasharray="2 2"/>
<rect x="990" y="860" width="556" height="258" fill="#ebebeb" stroke="#1aaa50" stroke-width="1.5" stroke-dasharray="2 2"/>
<rect x="993" y="1075" width="550" height="30" fill="#f9dfc4"/>
<path d="M1000 895 Q1120 920 1210 930 Q1300 930 1400 895 Q1470 875 1540 875" stroke="#b4b4b4" stroke-width="14" fill="none"/>
<path d="M1000 885 Q1120 910 1210 920 Q1300 920 1400 885 Q1470 865 1540 865" stroke="#a66ac8" stroke-width="5" stroke-dasharray="0 5" stroke-linecap="round" fill="none"/>
<path d="M1000 905 Q1120 930 1210 940 Q1300 940 1400 905 Q1470 885 1540 885" stroke="#a66ac8" stroke-width="5" stroke-dasharray="0 5" stroke-linecap="round" fill="none"/>
<text x="1200" y="884" font-size="17" text-anchor="middle">Cell membrane</text>
<text x="1025" y="939" font-size="17">Cholesterol</text>
<path d="M1080 950 L1076 990" stroke="#7a40b0" stroke-width="4"/>
<path d="M1065 995 V1040" stroke="#f09020" stroke-width="2"/><path d="M1076 990 V1060" stroke="#e01010" stroke-width="2"/>
<path d="M1065 1000 h11 M1065 1008 h11 M1065 1016 h11 M1065 1024 h11 M1065 1032 h11" stroke="#e44" stroke-width="1.5"/>
<circle cx="1076" cy="1052" r="5" fill="#e01010"/><circle cx="1076" cy="1063" r="4" fill="#111"/>
<path d="M1076 1063 V1100" stroke="#111" stroke-width="2"/><path d="M1063 1045 V1100" stroke="#1a90d0" stroke-width="2"/>
<path d="M1063 1070 h13 M1063 1078 h13 M1063 1086 h13 M1063 1094 h13" stroke="#111" stroke-width="1.5"/>
<path d="M1063 1040 H1050 Q1030 1040 1030 1025 Q1012 1010 1005 1025 Q1005 1040 1025 1040 M1030 1025 H1063" stroke="#8070c0" stroke-width="2" fill="none"/>
<g font-size="13"><text x="1048" y="1004" fill="#f09020">5'</text><text x="1080" y="1004" fill="#e01010">3'</text><text x="1048" y="1022" fill="#f09020">a</text><text x="1080" y="1036" fill="#e01010">F</text><text x="1078" y="1052" fill="#e01010">5' Cy5</text><text x="1080" y="1068">3' BHQ-2</text><text x="1080" y="1085">Q</text><text x="1080" y="1100">5'</text><text x="1008" y="1032" fill="#8070c0">H</text><text x="1006" y="1047" fill="#8070c0">b</text><text x="1035" y="1020" fill="#8070c0">3</text><text x="1048" y="1085" fill="#1a90d0">c</text><text x="1044" y="1100" fill="#1a90d0">3'</text></g>
<text x="1148" y="1003" font-size="17">Close</text>
<path d="M1225 925 L1215 985" stroke="#7a40b0" stroke-width="4"/>
<path d="M1202 980 V1040" stroke="#f09020" stroke-width="2"/><path d="M1215 985 V1040" stroke="#e01010" stroke-width="2"/>
<path d="M1202 990 h13 M1202 998 h13 M1202 1006 h13 M1202 1014 h13 M1202 1022 h13" stroke="#e44" stroke-width="1.5"/>
<circle cx="1215" cy="1040" r="6" fill="#e01010"/><circle cx="1215" cy="1060" r="5" fill="#111"/>
<path d="M1215 1060 V1100" stroke="#111" stroke-width="2"/><path d="M1202 1040 V1105" stroke="#1a90d0" stroke-width="2"/>
<path d="M1202 1070 h13 M1202 1080 h13 M1202 1090 h13" stroke="#111" stroke-width="1.5"/>
<path d="M1202 1030 H1180 Q1165 1015 1150 1020 Q1140 1035 1150 1045 Q1165 1050 1180 1040 H1202" stroke="#8070c0" stroke-width="2" fill="none"/>
<rect x="1245" y="972" width="85" height="80" fill="none" stroke="#3340a0" stroke-width="1.5" stroke-dasharray="2 2"/>
<rect x="1252" y="978" width="72" height="68" fill="#050510"/>
<circle cx="1285" cy="1012" r="20" fill="#2840b0"/>
<path d="M1300 1035 H1315" stroke="#fff" stroke-width="2"/>
<path d="M1195 1005 L1245 972 M1195 1065 L1245 1052" stroke="#3340a0" stroke-width="1" stroke-dasharray="2 2"/>
<text x="1345" y="1012" font-size="17">Open</text>
<path d="M1392 1030 V975" stroke="#111" stroke-width="2"/><polygon points="1387,978 1392,966 1397,978" fill="#111"/>
<text x="1320" y="1075" font-size="17">PDA</text>
<path d="M1432 905 L1430 930" stroke="#7a40b0" stroke-width="4"/>
<path d="M1418 935 V980" stroke="#f09020" stroke-width="2"/><path d="M1430 935 V1040" stroke="#e01010" stroke-width="2"/>
<path d="M1418 940 h12 M1418 948 h12 M1418 956 h12 M1418 964 h12 M1418 972 h12" stroke="#e44" stroke-width="1.5"/>
<circle cx="1428" cy="962" r="16" fill="url(#glowr)"/>
<path d="M1418 975 V1105" stroke="#7a70c0" stroke-width="2"/>
<path d="M1418 1010 h8 M1418 1020 h8 M1418 1030 h8 M1418 1040 h8" stroke="#7a70c0" stroke-width="1.5"/>
<circle cx="1428" cy="1060" r="5" fill="#111"/><path d="M1428 1060 V1100" stroke="#111" stroke-width="2"/>
<path d="M1418 1080 h10 M1418 1090 h10" stroke="#1a90d0" stroke-width="1.5"/>
<rect x="1407" y="950" width="38" height="118" fill="none" stroke="#3340a0" stroke-width="1.5" stroke-dasharray="2 2"/>
<rect x="1460" y="975" width="77" height="75" fill="none" stroke="#3340a0" stroke-width="1.5" stroke-dasharray="2 2"/>
<rect x="1465" y="980" width="68" height="66" fill="#050510"/>
<ellipse cx="1498" cy="1013" rx="26" ry="28" fill="none" stroke="#e02020" stroke-width="2"/>
<circle cx="1496" cy="1013" r="16" fill="#2840b0"/>
<path d="M1445 950 L1460 975 M1445 1068 L1460 1050" stroke="#3340a0" stroke-width="1" stroke-dasharray="2 2"/>
<text x="1475" y="955" font-size="18">F &gt;F</text><text x="1517" y="962" font-size="11">T</text>
<text x="1242" y="1093" font-size="17" text-anchor="middle">Substrate</text>
</svg>
</body></html>
